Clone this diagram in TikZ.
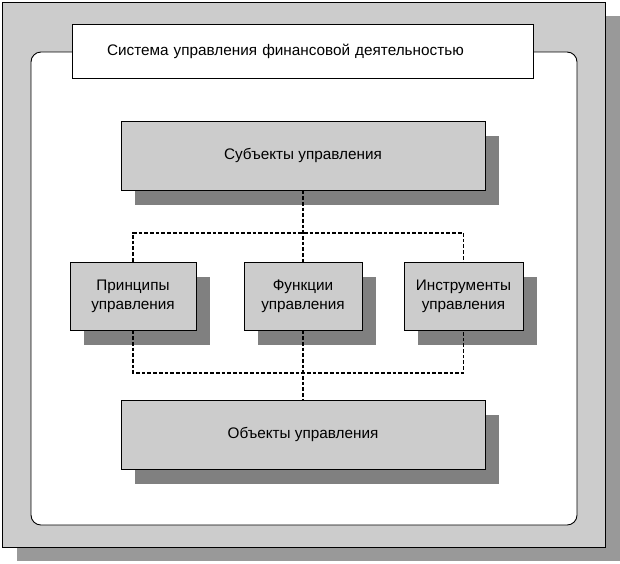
\documentclass[tikz,border=0pt]{standalone}
\usepackage{fontspec}
\setmainfont{Liberation Sans}
\usetikzlibrary{positioning,shadows}
\definecolor{framegray}{HTML}{CCCCCC}
\definecolor{frameshade}{HTML}{999999}
\definecolor{boxgray}{HTML}{CCCCCC}
\definecolor{boxshade}{HTML}{808080}

\begin{document}
\begin{tikzpicture}[x=1pt,y=-1pt,
    box/.style={draw=black,fill=boxgray,line width=0.9pt,inner sep=0pt,align=center,
      font=\fontsize{15.3}{19}\selectfont,
      general shadow={fill=boxshade,shadow xshift=14pt,shadow yshift=-15pt}},
    bus/.style={line width=1.5pt,dash pattern=on 3.7pt off 2pt}]
  \useasboundingbox (0,0) rectangle (620,563);
  % outer frame and white panel
  \node[draw=black,fill=framegray,line width=0.9pt,inner sep=0pt,minimum width=603pt,minimum height=545pt,
    general shadow={fill=frameshade,shadow xshift=15pt,shadow yshift=-14pt}] (frame) at (303.5,274.5) {};
  \node[draw=black,fill=white,line width=0.9pt,rounded corners=10pt,inner sep=0pt,
    minimum width=546pt,minimum height=473pt] (panel) at (304,288.5) {};
  \node[draw=black,fill=white,line width=0.9pt,inner xsep=35pt,inner ysep=0pt,text width=391pt,align=left,
    minimum height=54pt,font=\fontsize{15.3}{19}\selectfont] (title) at (302.5,51) {Система управления финансовой деятельностью};

  % boxes
  \node[box,minimum width=364pt,minimum height=69pt] (subj) at (303,155.5) {Субъекты управления};
  \node[box,minimum width=126pt,minimum height=68pt] (princ) at (133,296) {Принципы\\управления};
  \node[box,minimum width=118pt,minimum height=68pt] (func) at (303,296) {Функции\\управления};
  \node[box,minimum width=119pt,minimum height=68pt] (instr) at (463.5,296) {Инструменты\\управления};
  \node[box,minimum width=364pt,minimum height=69pt] (obj) at (303,434.5) {Объекты управления};

  % dashed links
  \coordinate (topbus) at (303,233);
  \coordinate (botbus) at (303,373);
  \draw[bus] (subj.south) -- (func.north);
  \draw[bus] (princ.north) |- (topbus) -| (instr.north);
  \draw[bus] (princ.south) |- (botbus) -| (instr.south);
  \draw[bus] (func.south) -- (obj.north);
\end{tikzpicture}
\end{document}
